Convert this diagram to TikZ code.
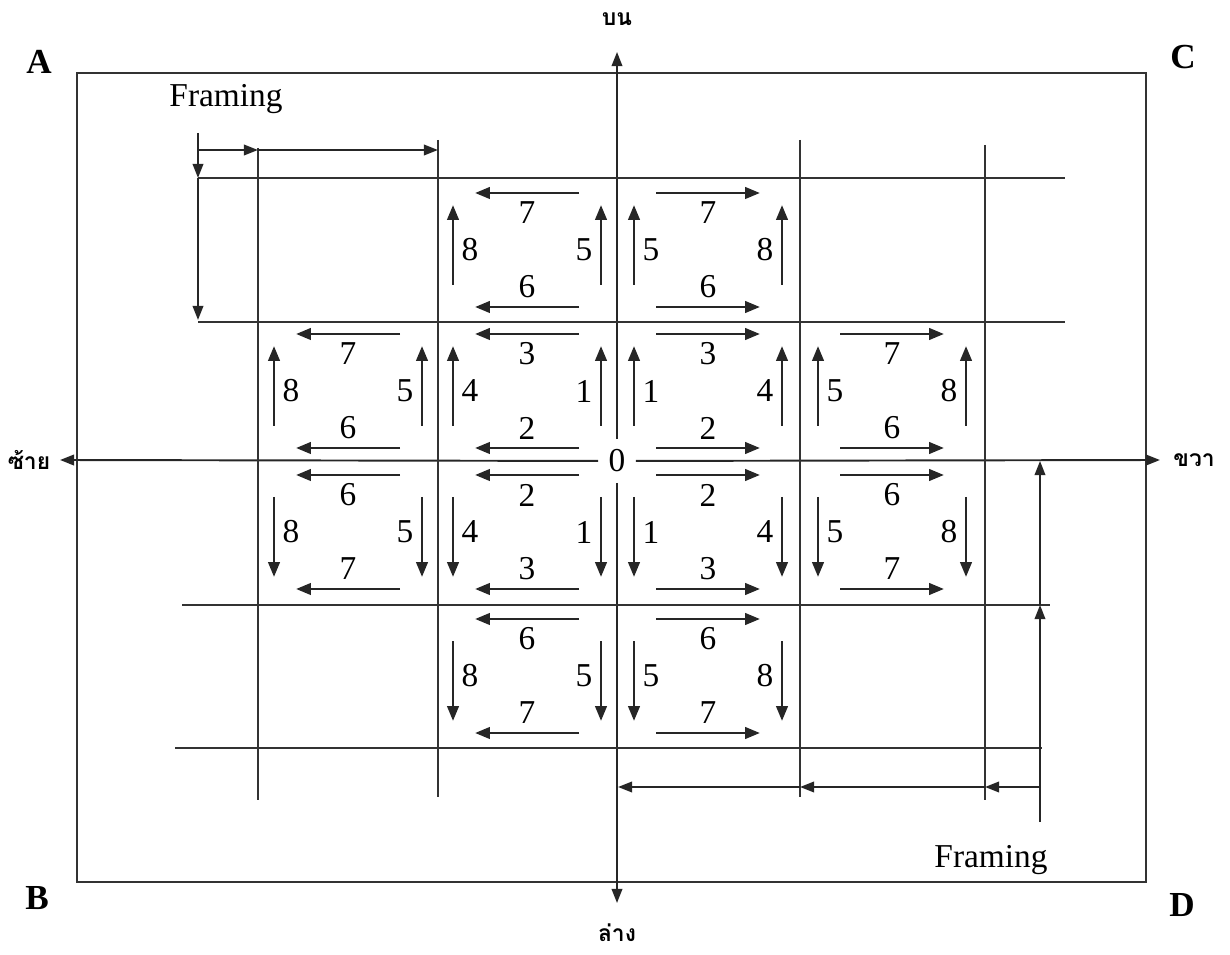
\documentclass[tikz,border=0pt]{standalone}
\usepackage{fontspec}
\setmainfont{Liberation Serif}
\newfontfamily\thaifont[Script=Thai]{Loma}
\usetikzlibrary{arrows.meta,positioning}
\newcommand{\cellloop}[9]{%
  \draw[flow] ({#2-(#4)*52},{#3-(#5)*57}) -- ({#2+(#4)*52},{#3-(#5)*57});
  \node[num] (#1-nh) at (#2,{#3-(#5)*37}) {#7};
  \draw[flow] ({#2-(#4)*52},{#3+(#5)*57}) -- ({#2+(#4)*52},{#3+(#5)*57});
  \node[num] (#1-fh) at (#2,{#3+(#5)*37}) {#8};
  \draw[flow] ({#2-(#4)*74},{#3-(#5)*35}) -- ({#2-(#4)*74},{#3+(#5)*45});
  \node[num] (#1-nv) at ({#2-(#4)*57},#3) {#6};
  \draw[flow] ({#2+(#4)*74},{#3-(#5)*35}) -- ({#2+(#4)*74},{#3+(#5)*45});
  \node[num] (#1-fv) at ({#2+(#4)*57},#3) {#9};
}

\begin{document}
\begin{tikzpicture}[x=0.02cm,y=-0.02cm,
frame/.style={draw=black!80,line width=1pt},
grid/.style={draw=black!80,line width=0.9pt},
axis/.style={draw=black!85,line width=1.1pt,-{Triangle[length=8pt,width=6pt]}},
fr/.style={draw=black!85,line width=1.1pt,-{Triangle[length=8pt,width=6pt]}},
flow/.style={draw=black!85,line width=1.6pt,-{Triangle[length=8.5pt,width=6.5pt]}},
num/.style={font=\fontsize{19}{21}\selectfont,inner sep=0pt},
corner/.style={font=\fontsize{20}{22}\selectfont\bfseries},
side/.style={font=\thaifont\bfseries\fontsize{13}{15}\selectfont}]
\useasboundingbox (0,0) rectangle (1230,955);
\draw[frame] (77,73) rectangle (1146,882);
\node[corner] (A) at (39,62) {A};
\node[corner] (C) at (1183,57) {C};
\node[corner] (B) at (37,898) {B};
\node[corner] (D) at (1182,905) {D};

\node[num,minimum width=0.74cm,minimum height=0.86cm] (zero) at (617,461) {0};
\coordinate (topend) at (617,52);
\coordinate (bottomend) at (617,903);
\coordinate (leftend) at (60,460);
\coordinate (rightend) at (1160,460);
\draw[axis] (zero) -- (topend);
\draw[axis] (zero) -- (bottomend);
\draw[axis] (zero) -- (leftend);
\draw[axis] (zero) -- (rightend);
\node[side] (toplab) at (617,19) {บน};
\node[side] (bottomlab) at (617,933) {ล่าง};
\node[side] (leftlab) at (29,460) {ซ้าย};
\node[side] (rightlab) at (1194,460) {ขวา};

\draw[grid] (198,178) -- (1065,178);
\draw[grid] (198,322) -- (1065,322);
\draw[grid] (182,605) -- (1050,605);
\draw[grid] (175,748) -- (1042,748);
\draw[grid] (258,148) -- (258,800);
\draw[grid] (438,140) -- (438,797);
\draw[grid] (800,140) -- (800,797);
\draw[grid] (985,145) -- (985,800);

\node[num] (frameA) at (226,99) {Framing};
\draw[fr] (198,133) -- (198,178);
\draw[fr] (198,178) -- (198,320);
\draw[fr] (198,150) -- (258,150);
\draw[fr] (258,150) -- (438,150);
\node[num] (frameD) at (991,860) {Framing};
\draw[fr] (1040,822) -- (1040,605);
\draw[fr] (1040,605) -- (1040,461);
\draw[fr] (1040,787) -- (985,787);
\draw[fr] (985,787) -- (800,787);
\draw[fr] (800,787) -- (618,787);

\cellloop{ul}{527}{250}{-1}{-1}{5}{6}{7}{8}
\cellloop{ur}{708}{250}{1}{-1}{5}{6}{7}{8}
\cellloop{ml}{348}{391}{-1}{-1}{5}{6}{7}{8}
\cellloop{ma}{527}{391}{-1}{-1}{1}{2}{3}{4}
\cellloop{mb}{708}{391}{1}{-1}{1}{2}{3}{4}
\cellloop{mr}{892}{391}{1}{-1}{5}{6}{7}{8}
\cellloop{nl}{348}{532}{-1}{1}{5}{6}{7}{8}
\cellloop{na}{527}{532}{-1}{1}{1}{2}{3}{4}
\cellloop{nb}{708}{532}{1}{1}{1}{2}{3}{4}
\cellloop{nr}{892}{532}{1}{1}{5}{6}{7}{8}
\cellloop{ll}{527}{676}{-1}{1}{5}{6}{7}{8}
\cellloop{lr}{708}{676}{1}{1}{5}{6}{7}{8}
\end{tikzpicture}
\end{document}
